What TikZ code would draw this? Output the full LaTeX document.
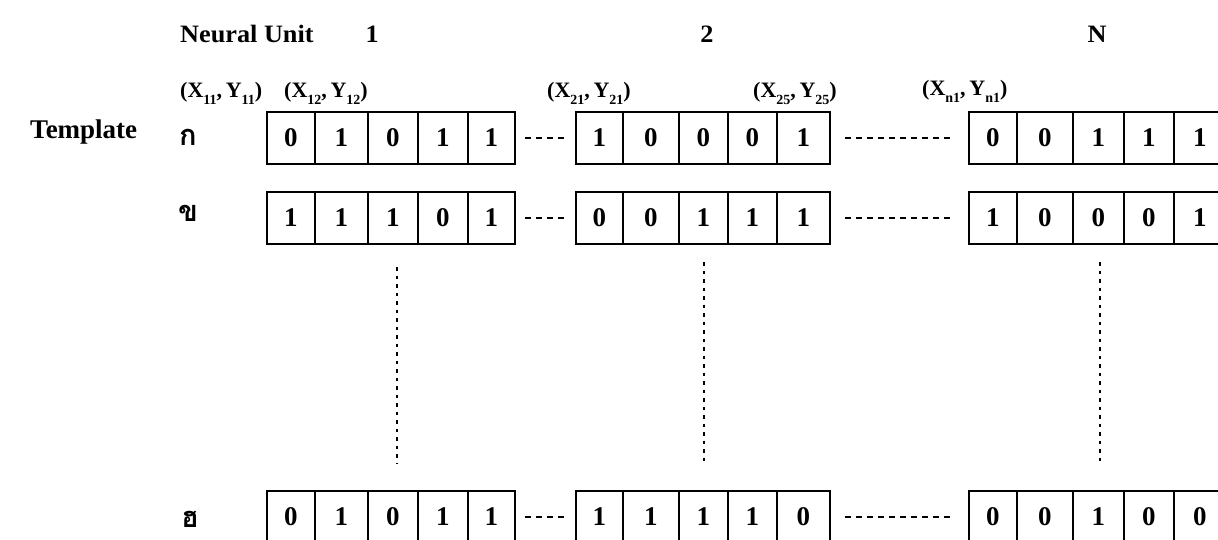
\documentclass[tikz,border=0pt]{standalone}
\usepackage{fontspec}
\setmainfont{Liberation Serif}
\newfontfamily\widefont[FakeStretch=1.05]{Liberation Serif}
\newfontfamily\thaifont[Script=Thai]{Loma}
\newcommand\xylab[2]{(X\lower7pt\hbox{\fontsize{14}{14}\selectfont #1},\,Y\lower7pt\hbox{\fontsize{14}{14}\selectfont #2})}
\begin{document}
\begin{tikzpicture}[x=1pt,y=-1pt,
  cell/.style={draw, line width=1.8pt, inner sep=0pt, anchor=north west, minimum height=52pt,
    font=\bfseries\fontsize{27}{27}\selectfont},
  hdots/.style={line width=1.3pt, dash pattern=on 6pt off 5pt},
  vdots/.style={line width=1.3pt, dash pattern=on 3.5pt off 5pt},
  lbl/.style={anchor=base west, inner sep=0pt, font=\bfseries\fontsize{22}{22}\selectfont},
  thaiL/.style={font=\thaifont\bfseries\fontsize{29}{29}\selectfont, inner sep=0pt},
  head/.style={font=\widefont\bfseries\fontsize{25}{25}\selectfont, inner sep=0pt, anchor=base}]
\clip (0,0) rectangle (1218,539);
\useasboundingbox (0,0) rectangle (1218,539);
% header texts
\node[head, anchor=base west] (nu) at (180,42) {Neural Unit\hspace{52pt}1};
\node[head] (n2) at (707,42) {2};
\node[head] (nN) at (1097,42) {N};
\node[anchor=base west, inner sep=0pt, font=\bfseries\fontsize{27}{27}\selectfont] (tpl) at (30,138) {Template};
% coordinate labels
\node[lbl] (x11) at (180,97) {\xylab{11}{11}};
\node[lbl] (x12) at (284,97) {\xylab{12}{12}};
\node[lbl] (x21) at (547,97) {\xylab{21}{21}};
\node[lbl] (x25) at (753,97) {\xylab{25}{25}};
\node[lbl] (xn1) at (922,95) {\xylab{n1}{n1}};
% thai row letters
\node[thaiL] (ta) at (188,137) {ก};
\node[thaiL] (tb) at (188,213) {ข};
\node[thaiL] (tc) at (190,519) {ฮ};
% rows of cells
\foreach \r/\y/\da/\db/\dc in {a/111/{0,1,0,1,1}/{1,0,0,0,1}/{0,0,1,1,1},
                                b/191/{1,1,1,0,1}/{0,0,1,1,1}/{1,0,0,0,1},
                                c/490/{0,1,0,1,1}/{1,1,1,1,0}/{0,0,1,0,0}}{
  \foreach \x/\w [count=\i] in {266/48,314/53,367/50,417/50,467/47}{
    \pgfmathtruncatemacro\d{{\da}[\i-1]}
    \node[cell, minimum width=\w pt] (\r1-\i) at (\x,\y) {\d};
  }
  \foreach \x/\w [count=\i] in {575/47,622/56,678/49,727/49,776/53}{
    \pgfmathtruncatemacro\d{{\db}[\i-1]}
    \node[cell, minimum width=\w pt] (\r2-\i) at (\x,\y) {\d};
  }
  \foreach \x/\w [count=\i] in {968/48,1016/56,1072/51,1123/50,1173/52}{
    \pgfmathtruncatemacro\d{{\dc}[\i-1]}
    \node[cell, minimum width=\w pt] (\r3-\i) at (\x,\y) {\d};
  }
  \draw[hdots, shorten <=9pt, shorten >=9pt] (\r1-5.east) -- (\r2-1.west);
  \draw[hdots, shorten <=14pt, shorten >=18pt] (\r2-5.east) -- (\r3-1.west);
}
% vertical ellipses
\coordinate (v1t) at (397,267); \coordinate (v1b) at (397,463);
\coordinate (v2t) at (704,262); \coordinate (v2b) at (704,465);
\coordinate (v3t) at (1100,262); \coordinate (v3b) at (1100,462);
\draw[vdots] (v1t) -- (v1b);
\draw[vdots] (v2t) -- (v2b);
\draw[vdots] (v3t) -- (v3b);
\end{tikzpicture}
\end{document}
